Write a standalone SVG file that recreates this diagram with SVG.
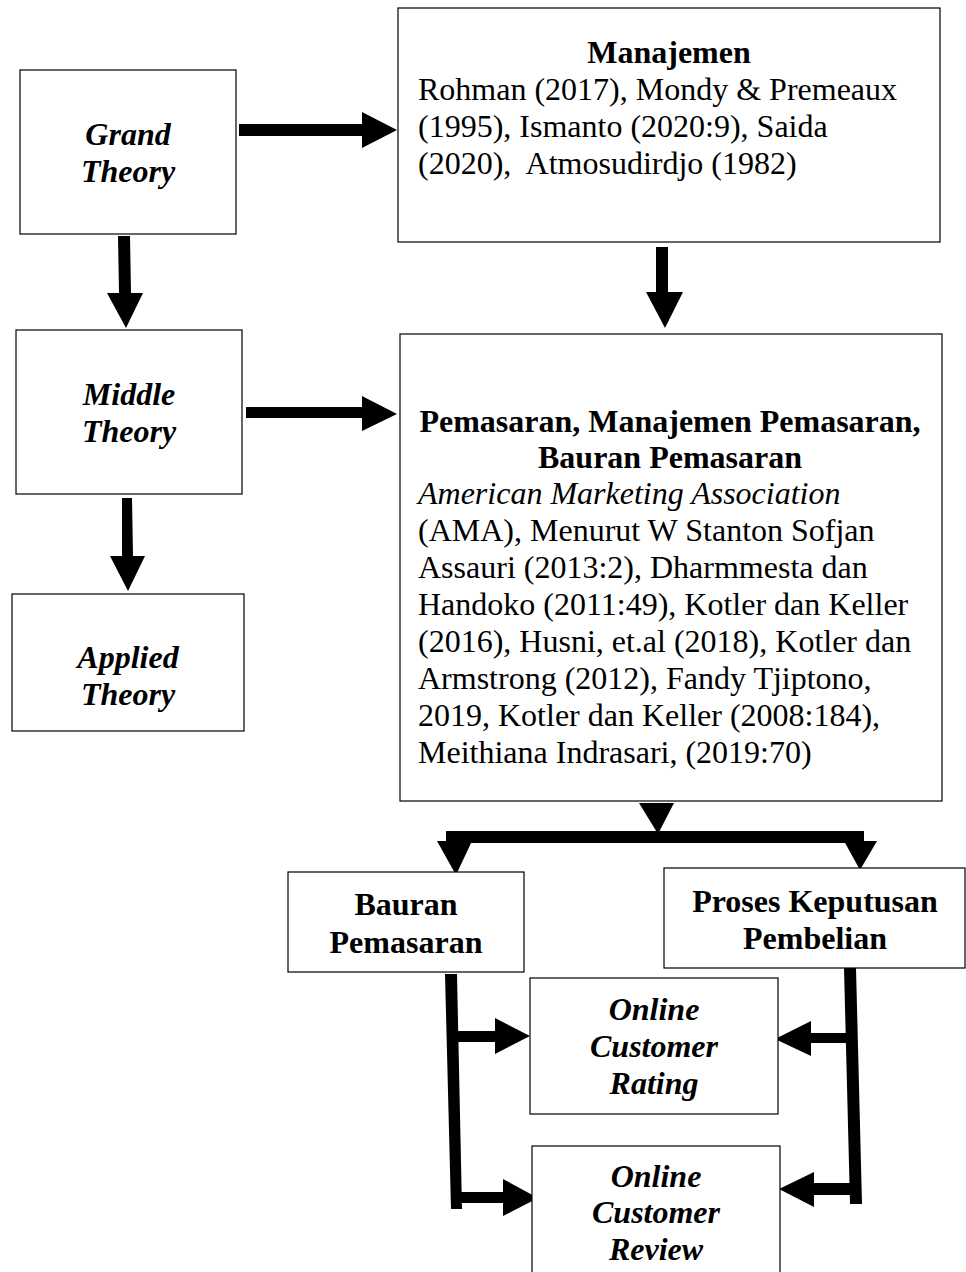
<svg xmlns="http://www.w3.org/2000/svg" width="966" height="1272" viewBox="0 0 966 1272">
<style>
.box{fill:#fff;stroke:#000;stroke-width:1.2}
text{font-family:"Liberation Serif","Times New Roman",serif;font-size:32px;fill:#000}
.bi{font-weight:bold;font-style:italic;text-anchor:middle}
.b{font-weight:bold;text-anchor:middle}
.i{font-style:italic}
.arr{fill:#000;stroke:none}
</style>
<rect width="966" height="1272" fill="#fff"/>
<g id="connectors">
<polygon class="arr" points="239,124 362,124 362,112 397,130 362,148 362,136 239,136"/>
<polygon class="arr" points="656,247 668,247 668,292 683,292 665,328 646,292 656,292"/>
<polygon class="arr" points="118,236 130,236 131,293 143,293 126,328 107,293 119,293"/>
<polygon class="arr" points="246,407 362,407 362,396 397,414 362,431 362,418 246,418"/>
<polygon class="arr" points="122,498 132,498 133,556 145,556 128,591 110,556 122,556"/>
<polygon class="arr" points="639,803 674,803 658,834"/>
<rect class="arr" x="446" y="831" width="418" height="12"/>
<polygon class="arr" points="437,841 472,841 456,875"/>
<polygon class="arr" points="844,841 877,841 860,870"/>
<polygon class="arr" points="445,974 457,974 462,1209 451,1209"/>
<polygon class="arr" points="456,1031 495,1031 495,1018 530,1036 495,1054 495,1042 456,1042"/>
<polygon class="arr" points="461,1192 503,1192 503,1179 538,1198 503,1216 503,1203 461,1203"/>
<polygon class="arr" points="844,968 856,968 862,1204 850,1204"/>
<polygon class="arr" points="847,1033 811,1033 811,1021 775,1039 811,1056 811,1043 847,1043"/>
<polygon class="arr" points="852,1183 814,1183 814,1172 779,1189 814,1207 814,1195 852,1195"/>
</g>
<g id="grand">
<rect class="box" x="20" y="70" width="216" height="164"/>
<text class="bi" x="128" y="145">Grand</text>
<text class="bi" x="128" y="182">Theory</text>
</g>
<g id="manajemen">
<rect class="box" x="398" y="8" width="542" height="234"/>
<text class="b" x="669" y="63">Manajemen</text>
<text x="418" y="100">Rohman (2017), Mondy &amp; Premeaux</text>
<text x="418" y="137">(1995), Ismanto (2020:9), Saida</text>
<text x="418" y="174" xml:space="preserve">(2020),  Atmosudirdjo (1982)</text>
</g>
<g id="middle">
<rect class="box" x="16" y="330" width="226" height="164"/>
<text class="bi" x="129" y="405">Middle</text>
<text class="bi" x="129" y="442">Theory</text>
</g>
<g id="applied">
<rect class="box" x="12" y="594" width="232" height="137"/>
<text class="bi" x="128" y="668">Applied</text>
<text class="bi" x="128" y="705">Theory</text>
</g>
<g id="pemasaran">
<rect class="box" x="400" y="334" width="542" height="467"/>
<text class="b" x="670" y="432">Pemasaran, Manajemen Pemasaran,</text>
<text class="b" x="670" y="468">Bauran Pemasaran</text>
<text class="i" x="418" y="504">American Marketing Association</text>
<text x="418" y="541">(AMA), Menurut W Stanton Sofjan</text>
<text x="418" y="578">Assauri (2013:2), Dharmmesta dan</text>
<text x="418" y="615">Handoko (2011:49), Kotler dan Keller</text>
<text x="418" y="652">(2016), Husni, et.al (2018), Kotler dan</text>
<text x="418" y="689">Armstrong (2012), Fandy Tjiptono,</text>
<text x="418" y="726">2019, Kotler dan Keller (2008:184),</text>
<text x="418" y="763">Meithiana Indrasari, (2019:70)</text>
</g>
<g id="bauran">
<rect class="box" x="288" y="872" width="236" height="100"/>
<text class="b" x="406" y="915">Bauran</text>
<text class="b" x="406" y="953">Pemasaran</text>
</g>
<g id="proses">
<rect class="box" x="664" y="868" width="301" height="100"/>
<text class="b" x="815" y="912">Proses Keputusan</text>
<text class="b" x="815" y="949">Pembelian</text>
</g>
<g id="rating">
<rect class="box" x="530" y="978" width="248" height="136"/>
<text class="bi" x="654" y="1020">Online</text>
<text class="bi" x="654" y="1057">Customer</text>
<text class="bi" x="654" y="1094">Rating</text>
</g>
<g id="review">
<rect class="box" x="532" y="1146" width="248" height="140"/>
<text class="bi" x="656" y="1187">Online</text>
<text class="bi" x="656" y="1223">Customer</text>
<text class="bi" x="656" y="1260">Review</text>
</g>
</svg>
